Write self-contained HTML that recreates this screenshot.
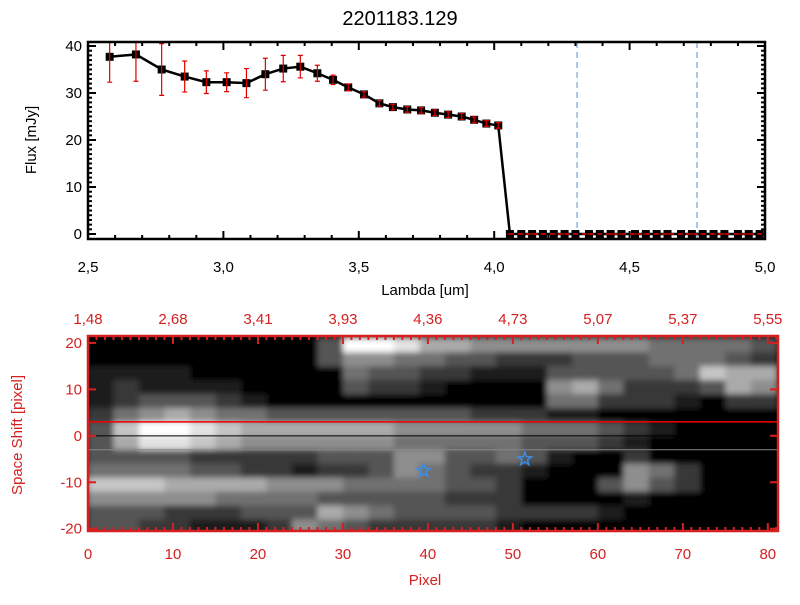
<!DOCTYPE html>
<html><head><meta charset="utf-8"><style>
body{margin:0;background:#fff;width:800px;height:600px;overflow:hidden}
svg text{font-family:"Liberation Sans",sans-serif}
</style></head><body>
<svg id="s" width="800" height="600" xmlns="http://www.w3.org/2000/svg"></svg>
<script>
const lambdas=[2.58,2.677,2.772,2.857,2.937,3.012,3.085,3.155,3.221,3.284,3.347,3.405,3.461,3.519,3.576,3.626,3.679,3.730,3.781,3.830,3.880,3.926,3.971,4.015,
4.058,4.10,4.14,4.18,4.22,4.26,4.30,4.35,4.39,4.43,4.47,4.52,4.56,4.60,4.64,4.69,4.73,4.77,4.81,4.85,4.90,4.94,4.98];
const fluxes=[37.7,38.2,35.0,33.5,32.3,32.3,32.1,34.0,35.2,35.6,34.2,32.8,31.2,29.7,27.8,27.0,26.5,26.3,25.8,25.4,25.0,24.3,23.5,23.1,
0,0,0,0,0,0,0,0,0,0,0,0,0,0,0,0,0,0,0,0,0,0,0];
const errors=[5.4,5.7,5.5,3.3,2.4,2.0,3.1,3.4,2.8,2.4,1.7,1.0,0.7,0.6,0.6,0.6,0.6,0.6,0.6,0.6,0.6,0.6,0.6,0.6,
0,0,0,0,0,0,0,0,0,0,0,0,0,0,0,0,0,0,0,0,0,0,0];
const xTicks=["2.5","3.0","3.5","4.0","4.5","5.0"];
const yTicks=["0","10","20","30","40"];
const vlines=[4.306,4.749];
const pxTicks=["0","10","20","30","40","50","60","70","80"];
const lamTop=["1.48","2.68","3.41","3.93","4.36","4.73","5.07","5.37","5.55"];
const shiftTicks=["-20","-10","0","10","20"];
const imgRows=[
"000000000399866555555544443",
"000000000355443322233344432",
"111100000043322111333334766",
"121111000032210000564222365",
"123332100000000000442221022",
"245654433333333222110000000",
"379987666666555554443210000",
"368876555555444443332100000",
"333322222333553343100200000",
"444433221223543221000542000",
"777666655544443320003532000",
"555554444333332220000100000",
"333222333654333322221000000",
"332211125432222210000000000"];
const stars=[[39.5,-7.5],[51.4,-5]];
const NS="http://www.w3.org/2000/svg",S=document.getElementById('s');
function el(t,a,p){const e=document.createElementNS(NS,t);for(const k in a)e.setAttribute(k,a[k]);(p||S).appendChild(e);return e;}
function tx(x,y,s,o,p){const e=el('text',Object.assign({x:x,y:y,'font-size':15},o||{}),p);e.textContent=s;return e;}
const defs=el('defs',{});
const flt=el('filter',{id:'bl',x:'-5%',y:'-5%',width:'110%',height:'110%'},defs);
el('feGaussianBlur',{stdDeviation:'3'},flt);
// top panel
const L=88,R=765,T=42,B=239,x0=2.5,x1=5.0,y0=-1.06,y1=40.85;
const X=v=>L+(v-x0)/(x1-x0)*(R-L),Y=v=>B-(v-y0)/(y1-y0)*(B-T);
let t=tx(400,25,"2201183.129",{'font-size':20,'text-anchor':'middle'});

const g1=el('g',{});
for(let i=0;i<=25;i++){const v=2.5+i*0.1,len=i%5==0?8:4;el('line',{x1:X(v),x2:X(v),y1:B,y2:B-len,stroke:'#000','stroke-width':2},g1);el('line',{x1:X(v),x2:X(v),y1:T,y2:T+len,stroke:'#000','stroke-width':2},g1);}
for(let v=0;v<=40;v++){const len=v%10==0?8:4;el('line',{x1:L,x2:L+len,y1:Y(v),y2:Y(v),stroke:'#000','stroke-width':2},g1);el('line',{x1:R,x2:R-len,y1:Y(v),y2:Y(v),stroke:'#000','stroke-width':2},g1);}
xTicks.forEach(s=>{const e=tx(X(+s),272,s.replace('.',','),{'text-anchor':'middle'},g1);});
yTicks.forEach(s=>{const e=tx(82,Y(+s)+5,s,{'text-anchor':'end'},g1);});
vlines.forEach(v=>{const e=el('line',{x1:X(v),x2:X(v),y1:T,y2:B,stroke:'#5a8fc8','stroke-width':1,'stroke-dasharray':'6,4'},g1);});
let d='';lambdas.forEach((v,i)=>{d+=(i?'L':'M')+X(v)+','+Y(fluxes[i]);});
let ln=el('path',{d:d,fill:'none',stroke:'#000','stroke-width':2.5},g1);
lambdas.forEach((v,i)=>{const cx=X(v),cy=Y(fluxes[i]);
 const m=el('rect',{x:cx-4,y:cy-4,width:8,height:8,fill:'#000'},g1);
 const e=errors[i];const ya=Math.max(T,Y(fluxes[i]+e)),yb=Y(fluxes[i]-e);
 const eb=el('path',{d:`M${cx},${ya}L${cx},${yb}M${cx-2.5},${ya}L${cx+2.5},${ya}M${cx-2.5},${yb}L${cx+2.5},${yb}`,stroke:'#e00000','stroke-width':1.2,fill:'none'},g1);
 });
el('line',{x1:X(4.058),x2:R,y1:Y(0),y2:Y(0),stroke:'#e00000','stroke-width':1.5,'stroke-dasharray':'4,4'},g1);
el('rect',{x:L,y:T,width:R-L,height:B-T,fill:'none',stroke:'#000','stroke-width':2.5},g1);
t=tx(425,295,"Lambda [um]",{'text-anchor':'middle'});
t=tx(0,0,"Flux [mJy]",{'text-anchor':'middle',transform:'translate(36,140) rotate(-90)'});
// bottom panel
const L2=88,R2=778,T2=336,B2=531,px0=0,px1=81.2,sy0=-20.5,sy1=21.5;
const PX=v=>L2+(v-px0)/(px1-px0)*(R2-L2),SY=v=>B2-(v-sy0)/(sy1-sy0)*(B2-T2);
const g2=el('g',{});
el('rect',{x:L2,y:T2,width:R2-L2,height:B2-T2,fill:'#000'},g2);
const cp=el('clipPath',{id:'cp'},defs);el('rect',{x:L2,y:T2,width:R2-L2,height:B2-T2},cp);
const gc=el('g',{'clip-path':'url(#cp)'},g2);
const gi=el('g',{filter:'url(#bl)'},gc);
el('rect',{x:L2-10,y:T2-10,width:R2-L2+20,height:B2-T2+20,fill:'#000'},gi);
imgRows.forEach((row,r)=>{for(let c=0;c<row.length;c++){const v=+row[c];if(!v)continue;const g=Math.round(v/9*255);
 const ya=SY(21-r*3),yb=SY(21-(r+1)*3),xa=PX(c*3),xb=PX(c*3+3);
 const cell=el('rect',{x:xa,y:ya,width:xb-xa+0.5,height:yb-ya+0.5,fill:`rgb(${g},${g},${g})`},gi);
 }});
el('line',{x1:L2,x2:R2,y1:SY(3),y2:SY(3),stroke:'#f00000','stroke-width':1.5},g2);
el('line',{x1:L2,x2:R2,y1:SY(-3),y2:SY(-3),stroke:'#888','stroke-width':1},g2);
el('line',{x1:L2,x2:R2,y1:SY(0),y2:SY(0),stroke:'#000','stroke-width':1},g2);
stars.forEach(s=>{const cx=PX(s[0]),cy=SY(s[1]);let p='';for(let k=0;k<10;k++){const a=-Math.PI/2+k*Math.PI/5,rr=k%2?2.8:7;p+=(k?'L':'M')+(cx+rr*Math.cos(a))+','+(cy+rr*Math.sin(a));}
 const st=el('path',{d:p+'Z',fill:'none',stroke:'#3a8ee8','stroke-width':1.5},g2);});
for(let v=0;v<=81;v++){const len=v%10==0?8:4;el('line',{x1:PX(v),x2:PX(v),y1:B2,y2:B2-len,stroke:'#d42020','stroke-width':2},g2);el('line',{x1:PX(v),x2:PX(v),y1:T2,y2:T2+len,stroke:'#d42020','stroke-width':2},g2);}
for(let v=-20;v<=20;v+=10){el('line',{x1:L2,x2:L2+8,y1:SY(v),y2:SY(v),stroke:'#d42020','stroke-width':2},g2);el('line',{x1:R2,x2:R2-8,y1:SY(v),y2:SY(v),stroke:'#d42020','stroke-width':2},g2);}
el('rect',{x:L2,y:T2,width:R2-L2,height:B2-T2,fill:'none',stroke:'#d42020','stroke-width':2.5},g2);
pxTicks.forEach(s=>{const e=tx(PX(+s),559,s,{'text-anchor':'middle',fill:'#d42020'},g2);});
lamTop.forEach((s,i)=>{const e=tx(PX(+pxTicks[i]),324,s.replace('.',','),{'text-anchor':'middle',fill:'#d42020'},g2);});
shiftTicks.forEach(s=>{const e=tx(82,SY(+s)+5,s,{'text-anchor':'end',fill:'#d42020'},g2);});
t=tx(425,585,"Pixel",{'text-anchor':'middle',fill:'#d42020'});
t=tx(0,0,"Space Shift [pixel]",{'text-anchor':'middle',fill:'#d42020',transform:'translate(22,435) rotate(-90)'});
</script>
</body></html>
